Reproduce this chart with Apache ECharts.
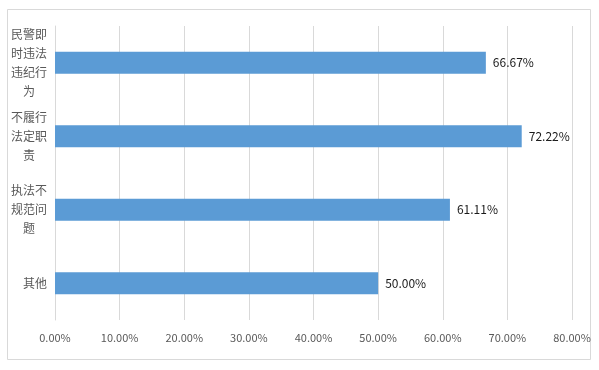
<!DOCTYPE html>
<html><head><meta charset="utf-8">
<script src="https://cdn.jsdelivr.net/npm/echarts@6/dist/echarts.min.js"></script>
<style>html,body{margin:0;padding:0;background:#fff}#c{width:599px;height:370px}</style>
</head><body><div id="c"></div>
<script>
const categories = ['民警即时违法违纪行为', '不履行法定职责', '执法不规范问题', '其他'];
const values = [66.67, 72.22, 61.11, 50.00];
const tickMin = 0, tickMax = 80, tickStep = 10;

function wrap(s) {
  if (s.length <= 3) return '{p|' + s + '}';
  const parts = [];
  for (let i = 0; i < s.length; i += 3) parts.push(s.slice(i, i + 3));
  return parts.join('\n');
}
const chart = echarts.init(document.getElementById('c'), null, {renderer: 'canvas'});
chart.setOption({
  animation: false,
  backgroundColor: '#fff',
  graphic: [{type: 'rect', shape: {x: 7.5, y: 9.5, width: 583, height: 350}, style: {fill: 'none', stroke: '#d9d9d9', lineWidth: 1}}],
  grid: {left: 55, right: 27, top: 26, bottom: 50, containLabel: false},
  xAxis: {
    type: 'value', min: tickMin, max: tickMax, interval: tickStep,
    axisLine: {show: false},
    axisTick: {show: true, length: 0},
    splitLine: {show: true, lineStyle: {color: '#d9d9d9', width: 1}},
    axisLabel: {color: '#595959', fontSize: 11, fontFamily: 'Noto Sans CJK SC', margin: 12,
      formatter: v => v.toFixed(2) + '%'}
  },
  yAxis: {
    type: 'category', data: categories, inverse: true,
    axisLine: {show: true, lineStyle: {color: '#d9d9d9'}},
    axisTick: {show: false},
    axisLabel: {color: '#595959', fontSize: 12, fontFamily: 'Noto Sans CJK SC', lineHeight: 19,
      align: 'center', margin: 26, formatter: wrap,
      rich: {p: {padding: [0, 0, 0, 12], fontSize: 12, color: '#595959', fontFamily: 'Noto Sans CJK SC'}}}
  },
  series: [{
    type: 'bar', data: values, barWidth: 22,
    itemStyle: {color: '#5b9bd5'},
    label: {show: true, position: 'right', distance: 7, color: '#1a1a1a', fontSize: 12,
      fontFamily: 'Noto Sans CJK SC', formatter: p => p.value.toFixed(2) + '%'}
  }]
});
</script></body></html>
